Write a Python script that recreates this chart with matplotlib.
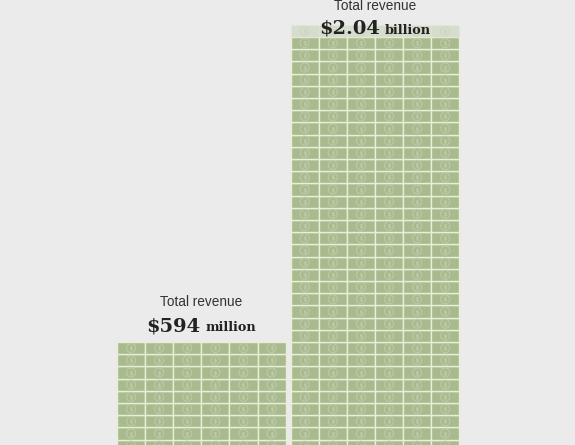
import matplotlib
matplotlib.use("Agg")
import matplotlib.pyplot as plt
from matplotlib.patches import Rectangle
from matplotlib.transforms import offset_copy

# ---- data ----
series = ["Left", "Right"]
revenue_numbers = ["$594", "$2.04"]
revenue_units = ["million", "billion"]
full_rows = [10, 35]          # complete rows of bills in each stack
faded_rows = [0, 1]           # pale partial row at the top of the stack
bills_per_row = 6
header = "Total revenue"

# ---- style ----
BG = "#ebebeb"
BILL = "#a8ba8e"
GAP = "#e9efd6"
RING = "#bccaa6"
col_gap = 0.18                # gap between stacks, in bill widths
px_w, px_h = 28.1, 12.2       # pixel size of a bill
left_px, base_px = 117, 464   # left edge of first stack, baseline (below the crop)
W, H = 575, 445

fig = plt.figure(figsize=(W / 100, H / 100), dpi=100, facecolor=BG)
ax = fig.add_axes([0, 0, 1, 1])
ax.set_facecolor(BG)
ax.set_xlim(-left_px / px_w, (W - left_px) / px_w)
ax.set_ylim((base_px - H) / px_h, base_px / px_h)
ax.axis("off")

label_offsets = [(2.95, 0.9), (2.25, 0.25)]  # header / number baselines above full top

for i, name in enumerate(series):
    x0 = i * (bills_per_row + col_gap)
    xs, ys, xf, yf = [], [], [], []
    total = full_rows[i] + faded_rows[i]
    for r in range(total):
        faded = r >= full_rows[i]
        for c in range(bills_per_row):
            ax.add_patch(Rectangle((x0 + c, r), 1, 1, facecolor=BILL, edgecolor=GAP,
                                   linewidth=1.0, alpha=0.3 if faded else 1.0, zorder=2))
            (xf if faded else xs).append(x0 + c + 0.5)
            (yf if faded else ys).append(r + 0.5)
    for X, Y, a in [(xs, ys, 1.0), (xf, yf, 0.3)]:
        if X:
            ax.scatter(X, Y, s=42, marker="o", facecolor="none", edgecolor=RING,
                       linewidth=0.8, alpha=a, zorder=3)
            ax.scatter(X, Y, s=14, marker=r"$\$$", color=RING, linewidth=0.3,
                       alpha=a, zorder=3)

    cx = x0 + bills_per_row / 2
    top = full_rows[i]
    ax.text(cx, top + label_offsets[i][0], header, ha="center", va="baseline",
            fontsize=9.8, family="Liberation Sans", color="#333333", zorder=5)
    ny = top + label_offsets[i][1]
    t1 = ax.text(cx, ny, revenue_numbers[i], ha="left", va="baseline",
                 fontsize=14, family="DejaVu Serif", weight="bold",
                 color="#222222", zorder=5)
    t2 = ax.text(cx, ny, revenue_units[i], ha="left", va="baseline",
                 fontsize=9.3, family="DejaVu Serif", weight="bold",
                 color="#222222", zorder=5)
    fig.canvas.draw()
    r = fig.canvas.get_renderer()
    w1 = t1.get_window_extent(r).width
    w2 = t2.get_window_extent(r).width
    space = 5
    tot = w1 + space + w2
    t1.set_transform(offset_copy(ax.transData, fig=fig, x=-tot / 2, y=0, units="dots"))
    t2.set_transform(offset_copy(ax.transData, fig=fig, x=-tot / 2 + w1 + space, y=0,
                                 units="dots"))

fig.savefig("out.png", dpi=100, facecolor=BG)
